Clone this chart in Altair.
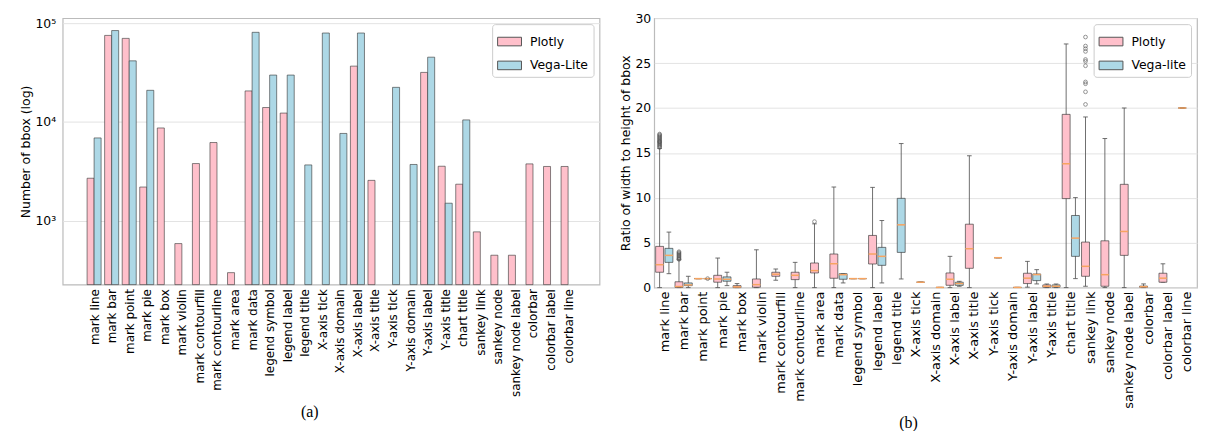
import json
import altair as alt
import pandas as pd

# ---------------- data ----------------
CATS = ["mark line", "mark bar", "mark point", "mark pie", "mark box", "mark violin",
        "mark contourfill", "mark contourline", "mark area", "mark data", "legend symbol",
        "legend label", "legend title", "X-axis tick", "X-axis domain", "X-axis label",
        "X-axis title", "Y-axis tick", "Y-axis domain", "Y-axis label", "Y-axis title",
        "chart title", "sankey link", "sankey node", "sankey node label", "colorbar",
        "colorbar label", "colorbar line"]

# (a) number of bboxes (log scale)
PLOTLY_COUNT = [2700, 75000, 70000, 2200, 8700, 590, 3800, 6200, 300, 20600, 14000, 12300,
                None, None, None, 36700, 2570, None, None, 31700, 3570, 2350, 775, 450, 450,
                3770, 3550, 3550]
VEGALITE_COUNT = [6900, 84000, 41500, 20900, None, None, None, None, None, 80600, 29800, 29800,
                  3680, 79300, 7660, 79300, None, 22400, 3720, 45200, 1510, 10500, None, None,
                  None, None, None, None]

# (b) box statistics of width/height ratio
N = None
PL_LO  = [0, 0, 1.0, 0, 0, 0, 0.82, 0, 0, 0, 1.0, 0, N, N, N, 0, 0, N, N, 0.05, 0, 0, 0.15, 0, 0, 0, 0.6, 20.0]
PL_Q1  = [1.71, 0.02, 1.0, 0.6, 0.0, 0.04, 1.26, 0.89, 1.63, 1.04, 1.0, 2.63, N, N, N, 0.26, 2.15, N, N, 0.45, 0.04, 9.91, 1.26, 0.15, 3.59, 0.04, 0.6, 20.0]
PL_MED = [2.55, 0.12, 1.0, 0.96, 0.08, 0.33, 1.49, 1.37, 1.89, 2.66, 1.0, 3.74, N, N, N, 0.93, 4.33, N, N, 1.05, 0.15, 13.79, 2.37, 1.44, 6.25, 0.1, 1.05, 20.0]
PL_Q3  = [4.59, 0.65, 1.0, 1.37, 0.22, 0.96, 1.71, 1.71, 2.74, 3.74, 1.0, 5.81, N, N, N, 1.63, 7.06, N, N, 1.6, 0.3, 19.29, 5.07, 5.21, 11.5, 0.17, 1.6, 20.0]
PL_HI  = [15.5, 3.1, 1.0, 3.29, 0.45, 4.21, 2.07, 2.81, 7.1, 11.2, 1.0, 11.16, N, N, N, 3.48, 14.68, N, N, 2.92, 0.4, 27.13, 19.0, 16.6, 20.0, 0.41, 2.65, 20.0]

VL_LO  = [1.55, 0, 1.0, 0.22, N, N, N, N, N, 0.52, 1.0, 0.52, 0.96, 0.6, 0.02, 0.15, N, 3.33, 0.02, 0.41, 0, 1.0, N, N, N, N, N, N]
VL_Q1  = [2.81, 0.22, 1.0, 0.71, N, N, N, N, N, 0.93, 1.0, 2.48, 3.92, 0.6, 0.02, 0.25, N, 3.33, 0.02, 0.78, 0.05, 3.48, N, N, N, N, N, N]
VL_MED = [3.59, 0.3, 1.0, 0.93, N, N, N, N, N, 1.44, 1.0, 3.48, 6.99, 0.6, 0.02, 0.45, N, 3.33, 0.02, 1.45, 0.15, 5.51, N, N, N, N, N, N]
VL_Q3  = [4.37, 0.52, 1.0, 1.19, N, N, N, N, N, 1.55, 1.0, 4.48, 9.94, 0.6, 0.02, 0.6, N, 3.33, 0.02, 1.52, 0.3, 8.03, N, N, N, N, N, N]
VL_HI  = [6.18, 1.26, 1.0, 1.71, N, N, N, N, N, 1.55, 1.0, 7.47, 16.04, 0.6, 0.02, 0.7, N, 3.33, 0.02, 2.0, 0.4, 10.02, N, N, N, N, N, N]

# outliers (category, series, values)
OUT_MARK_LINE_PL = [15.6, 15.7, 15.8, 15.9, 16.0, 16.1, 16.2, 16.25, 16.3, 16.4, 16.5, 16.6,
                    16.7, 16.8, 16.9, 17.0, 17.1]
OUT_MARK_BAR_PL = [3.15, 3.2, 3.3, 3.4, 3.5, 3.6, 3.7, 3.8, 3.9, 4.0]
OUT_MARK_POINT_VL = [1.0]
OUT_MARK_AREA_PL = [7.35]
OUT_SANKEY_LINK_PL = [27.9, 26.9, 26.6, 26.3, 25.4, 25.2, 24.7, 22.9, 22.7, 21.8, 20.4]

PINK = "#ffc0cb"
BLUE = "#add8e6"
FONT = "DejaVu Sans"

# ---------------- tables ----------------
rows = []
for i, c in enumerate(CATS):
    if PLOTLY_COUNT[i] is not None:
        rows.append({"idx": i, "category": c, "series": "Plotly", "count": PLOTLY_COUNT[i]})
    if VEGALITE_COUNT[i] is not None:
        rows.append({"idx": i, "category": c, "series": "Vega-Lite", "count": VEGALITE_COUNT[i]})
count_df = pd.DataFrame(rows)

brow = []
for i, c in enumerate(CATS):
    if PL_Q1[i] is not None:
        brow.append({"idx": i, "category": c, "series": "Plotly", "lo": PL_LO[i], "q1": PL_Q1[i],
                     "med": PL_MED[i], "q3": PL_Q3[i], "hi": PL_HI[i]})
    if VL_Q1[i] is not None:
        brow.append({"idx": i, "category": c, "series": "Vega-lite", "lo": VL_LO[i], "q1": VL_Q1[i],
                     "med": VL_MED[i], "q3": VL_Q3[i], "hi": VL_HI[i]})
box_df = pd.DataFrame(brow)

orow = []
for cat, ser, vals in [("mark line", "Plotly", OUT_MARK_LINE_PL), ("mark bar", "Plotly", OUT_MARK_BAR_PL),
                       ("mark point", "Vega-lite", OUT_MARK_POINT_VL), ("mark area", "Plotly", OUT_MARK_AREA_PL),
                       ("sankey link", "Plotly", OUT_SANKEY_LINK_PL)]:
    for v in vals:
        orow.append({"idx": CATS.index(cat), "series": ser, "value": v})
out_df = pd.DataFrame(orow)

RECT = "M-1,-0.36H1V0.36H-1Z"
CAT_EXPR = json.dumps(CATS) + "[datum.value]"


def legend_params():
    return alt.Legend(title=None, orient="top-right", offset=6, symbolType=RECT, symbolSize=576,
                      symbolStrokeColor="#555555", symbolStrokeWidth=1, symbolOpacity=1,
                      labelFont=FONT, labelFontSize=12.5, labelColor="black", labelOffset=8,
                      padding=5, rowPadding=5, strokeColor="#cccccc", fillColor="white",
                      cornerRadius=3)


def cat_axis(size, pad):
    return alt.Axis(title=None, values=list(range(len(CATS))), labelExpr=CAT_EXPR,
                    labelAngle=-90, labelFontSize=size, tickSize=0, labelPadding=pad, domain=False,
                    grid=False, labelFlush=False, labelOverlap=False)


def caption(text, offset):
    return alt.TitleParams(text, orient="bottom", anchor="middle", frame="bounds",
                           font="Liberation Serif", fontSize=16, fontWeight="normal",
                           color="black", offset=offset)


# ---------------- (a) ----------------
LOG_MIN, LOG_MAX = 227, 112000
xscale_a = alt.Scale(domain=[-1.79, 28.79], nice=False, zero=False)
left = alt.Chart(count_df).transform_calculate(
    b0="datum.series == 'Plotly' ? datum.idx - 0.4 : datum.idx",
).transform_calculate(
    b1="datum.b0 + 0.4"
).mark_bar(stroke="#333333", strokeOpacity=0.6, strokeWidth=1).encode(
    x=alt.X("b0:Q", scale=xscale_a, axis=cat_axis(12, 4)),
    x2="b1:Q",
    y=alt.Y("count:Q",
            scale=alt.Scale(type="log", domain=[LOG_MIN, LOG_MAX], nice=False),
            axis=alt.Axis(title="Number of bbox (log)", values=[1000, 10000, 100000],
                          labelExpr="datum.value == 1000 ? '10³' : datum.value == 10000 ? '10⁴' : '10⁵'",
                          grid=True, gridColor="#e3e3e3", tickSize=0, labelPadding=7, domain=False,
                          titlePadding=2, titleFontSize=12.5, titleFontWeight="normal", labelFontSize=12.5)),
    y2=alt.datum(LOG_MIN),
    color=alt.Color("series:N", scale=alt.Scale(domain=["Plotly", "Vega-Lite"], range=[PINK, BLUE]),
                    legend=legend_params()),
).properties(width=540, height=268, title=caption("(a)", 7))

# ---------------- (b) ----------------
xscale = alt.Scale(domain=[-0.52, 27.52], nice=False, zero=False)
yscale = alt.Scale(domain=[0, 30], nice=False)
xaxis = cat_axis(13, 3.5)
yaxis = alt.Axis(title="Ratio of width to height of bbox", values=[0, 5, 10, 15, 20, 25, 30],
                 grid=True, gridColor="#e3e3e3", tickSize=0, labelPadding=3.5, domain=False,
                 titlePadding=2, titleFontSize=12.5, titleFontWeight="normal", labelFontSize=12.5)

OFFSET = "(datum.series == 'Plotly' ? -0.24 : 0.24)"
base = alt.Chart(box_df).transform_calculate(
    xc="datum.idx + " + OFFSET
).transform_calculate(
    x0="datum.xc - 0.205", x1="datum.xc + 0.205", c0="datum.xc - 0.12", c1="datum.xc + 0.12"
)

whisk = base.mark_rule(color="#555555", strokeWidth=1, opacity=0.85).encode(
    x=alt.X("xc:Q", scale=xscale, axis=xaxis),
    y=alt.Y("lo:Q", scale=yscale, axis=yaxis),
    y2="hi:Q",
)
cap_lo = base.mark_rule(color="#555555", strokeWidth=1, opacity=0.85).encode(
    x=alt.X("c0:Q", scale=xscale, axis=xaxis), x2="c1:Q",
    y=alt.Y("lo:Q", scale=yscale, axis=yaxis),
)
cap_hi = base.mark_rule(color="#555555", strokeWidth=1, opacity=0.85).encode(
    x=alt.X("c0:Q", scale=xscale, axis=xaxis), x2="c1:Q",
    y=alt.Y("hi:Q", scale=yscale, axis=yaxis),
)
boxes = base.mark_bar(stroke="#333333", strokeOpacity=0.65, strokeWidth=1).encode(
    x=alt.X("x0:Q", scale=xscale, axis=xaxis), x2="x1:Q",
    y=alt.Y("q1:Q", scale=yscale, axis=yaxis), y2="q3:Q",
    color=alt.Color("series:N", scale=alt.Scale(domain=["Plotly", "Vega-lite"], range=[PINK, BLUE]),
                    legend=legend_params()),
)
medians = base.mark_rule(color="#f7a460", strokeWidth=1.5).encode(
    x=alt.X("x0:Q", scale=xscale, axis=xaxis), x2="x1:Q",
    y=alt.Y("med:Q", scale=yscale, axis=yaxis),
)
fliers = alt.Chart(out_df).transform_calculate(
    xc="datum.idx + " + OFFSET
).mark_point(shape="circle", filled=False, size=14, stroke="#555555", strokeWidth=0.9).encode(
    x=alt.X("xc:Q", scale=xscale, axis=xaxis),
    y=alt.Y("value:Q", scale=yscale, axis=yaxis),
)

right = alt.layer(whisk, cap_lo, cap_hi, boxes, medians, fliers).properties(
    width=546, height=271, title=caption("(b)", 7),
)

chart = alt.concat(left, right, columns=2, spacing=18, align="none").resolve_scale(
    color="independent"
).properties(
    padding={"left": 11, "top": 2, "right": 0, "bottom": 0}
).configure_view(
    stroke="#bbbbbb", strokeWidth=1.2
).configure_axis(
    labelFont=FONT, titleFont=FONT, labelColor="black", titleColor="black"
)

chart.save("out.html", embed_options={"renderer": "svg", "actions": False})
